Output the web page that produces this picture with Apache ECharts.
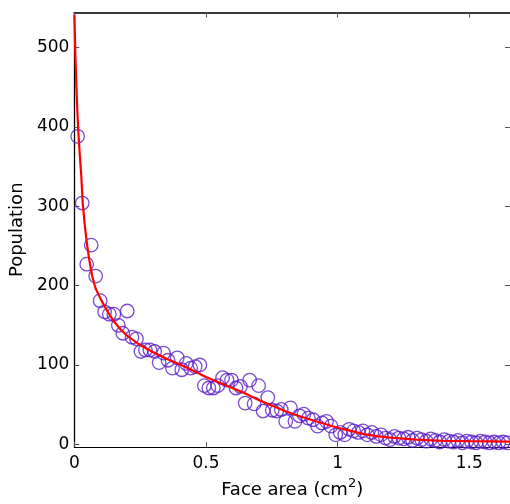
<!DOCTYPE html>
<html>
<head>
<meta charset="utf-8">
<script src="https://cdn.jsdelivr.net/npm/echarts@6/dist/echarts.min.js"></script>
<style>html,body{margin:0;padding:0;background:#fff;}#c{width:510px;height:504px;}</style>
</head>
<body>
<div id="c"></div>
<script>
// Scatter data (face area in cm^2, population)
const pointX = [0.0125,0.030,0.047,0.064,0.081,0.098,0.115,0.133,0.150,0.167,0.184,0.201,0.219,0.236,0.253,0.270,0.287,0.305,0.322,0.339,0.356,0.373,0.391,0.408,0.425,0.442,0.459,0.477,0.494,0.511,0.528,0.545,0.563,0.580,0.597,0.614,0.631,0.649,0.666,0.683,0.700,0.717,0.735,0.752,0.769,0.786,0.803,0.821,0.838,0.855,0.872,0.889,0.907,0.924,0.941,0.958,0.975,0.993,1.010,1.027,1.044,1.061,1.079,1.096,1.113,1.130,1.147,1.165,1.182,1.199,1.216,1.233,1.251,1.268,1.285,1.302,1.319,1.337,1.354,1.371,1.388,1.405,1.423,1.440,1.457,1.474,1.491,1.509,1.526,1.543,1.560,1.577,1.595,1.612,1.629,1.646];
const pointY = [388,304,227,251,212,181,167,164,164,150,140,168,135,133,117,119,119,117,103,115,106,96,109,94,102,96,98,100,74,71,71,74,84,81,81,71,73,52,81,51,74,42,59,43,42,44,29,46,29,36,38,33,31,23,27,29,23,12,15,12,19,17,15,17,12,15,10,12,8,6,10,8,7,9,5,8,6,4,7,5,3,6,4,3,5,2,4,3,2,4,3,2,3,2,3,2];
// Fitted curve
const fitX = [0,0.002,0.004,0.006,0.008,0.010,0.012,0.015,0.018,0.022,0.026,0.032,0.040,0.048,0.057,0.067,0.080,0.1,0.125,0.15,0.175,0.2,0.25,0.3,0.35,0.4,0.45,0.5,0.55,0.6,0.65,0.7,0.75,0.8,0.85,0.9,0.95,1.0,1.05,1.1,1.15,1.2,1.3,1.4,1.5,1.66];
const fitY = [541,515,490,469,450,432,415,395,378,358,340,303,275,252,232,213,197,183,168,155,145,137,125,116,108,101,93,85,78,71,64,56,49,42,36,31,26,21,17,13,10.5,8.5,6,4.5,4,3.5];
const xTicks = [0,0.5,1,1.5];
const yTicks = [0,100,200,300,400,500];

const chart = echarts.init(document.getElementById('c'), null, {renderer:'canvas'});
const font = 'DejaVu Sans, Verdana, sans-serif';
const scatterData = pointX.map((x,i)=>[x,pointY[i]]);
const fitData = fitX.map((x,i)=>[x,fitY[i]]);
const tickCommon = {show:true, inside:true, length:5, lineStyle:{color:'#555', width:1}};
chart.setOption({
  animation:false,
  backgroundColor:'#fff',
  grid:{left:74, right:-1, top:12.5, bottom:54.7, containLabel:false},
  xAxis:[{
    type:'value', min:0, max:1.655, position:'bottom',
    name:'{a|Face area (cm}{s|2}{a|)}', nameLocation:'middle', nameGap:30,
    nameTextStyle:{rich:{a:{fontFamily:font,fontSize:18,color:'#000',verticalAlign:'bottom',lineHeight:22},s:{fontFamily:font,fontSize:13,color:'#000',verticalAlign:'top',padding:[0,0,8,0],lineHeight:22}}},
    axisLine:{show:true,onZero:false,lineStyle:{color:'#000',width:1.2}},
    axisTick:Object.assign({customValues:xTicks},tickCommon),
    axisLabel:{customValues:xTicks, fontFamily:font, fontSize:17, color:'#000', margin:8},
    splitLine:{show:false}
  },{
    type:'value', min:0, max:1.655, position:'top',
    axisLine:{show:true,onZero:false,lineStyle:{color:'#3a3a3a',width:2}},
    axisTick:Object.assign({customValues:xTicks},tickCommon),
    axisLabel:{show:false}, splitLine:{show:false}
  }],
  yAxis:[{
    type:'value', min:-3.3, max:544, position:'left',
    name:'Population', nameLocation:'middle', nameGap:47,
    nameTextStyle:{fontFamily:font,fontSize:18,color:'#000'},
    axisLine:{show:true,onZero:false,lineStyle:{color:'#000',width:1.3}},
    axisTick:Object.assign({customValues:yTicks},tickCommon),
    axisLabel:{customValues:yTicks, fontFamily:font, fontSize:17, color:'#000', margin:5},
    splitLine:{show:false}
  },{
    type:'value', min:-3.3, max:544, position:'right',
    axisLine:{show:true,onZero:false,lineStyle:{color:'#3a3a3a',width:1}},
    axisTick:Object.assign({customValues:yTicks},tickCommon),
    axisLabel:{show:false}, splitLine:{show:false}
  }],
  series:[{
    type:'scatter', data:scatterData, symbol:'circle', symbolSize:13.5,
    itemStyle:{color:'rgba(0,0,0,0)', borderColor:'#5a1ec8', borderWidth:1.3},
    emphasis:{disabled:true},
    z:2
  },{
    type:'line', data:fitData, showSymbol:false, symbol:'none', smooth:false,
    lineStyle:{color:'#ff0000', width:2.2}, z:3
  }]
});
</script>
</body>
</html>
